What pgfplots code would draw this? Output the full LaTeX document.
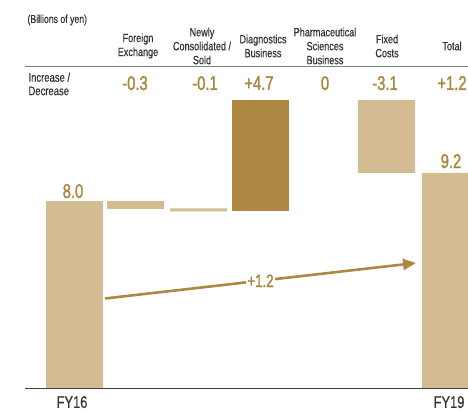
\documentclass[border=0pt]{standalone}
\usepackage{fontspec}
\setmainfont{Liberation Sans}[FakeStretch=0.76, FakeBold=0.4]
\newfontfamily\numfont{Liberation Sans}[FakeStretch=0.74, FakeBold=1.4]
\usepackage{pgfplots}
\pgfplotsset{compat=1.18}
\usetikzlibrary{arrows.meta}
\definecolor{barlight}{HTML}{D3BC91}
\definecolor{bardark}{HTML}{AE8843}
\definecolor{txtgold}{HTML}{A8863F}
\definecolor{hdr}{HTML}{333333}
\begin{document}
\begin{tikzpicture}
\begin{axis}[scale only axis, width=468bp, height=411bp,
  xmin=0, xmax=468, ymin=-0.9506, ymax=16.568,
  axis lines=none, ybar stacked, bar width=57, clip=true]
% invisible base
\addplot[fill=white, draw=none, fill opacity=0] coordinates {(74.5,0) (135.5,7.66) (198.5,7.56) (260.5,7.56) (386.5,9.2) (450.5,0)};
% light bars
\addplot[fill=barlight, draw=none] coordinates {(74.5,8.0) (135.5,0.34) (198.5,0.13) (260.5,0) (386.5,3.1) (450.5,9.2)};
% dark bar
\addplot[fill=bardark, draw=none] coordinates {(74.5,0) (135.5,0) (198.5,0) (260.5,4.74) (386.5,0) (450.5,0)};
\end{axis}
\begin{axis}[scale only axis, width=468bp, height=411bp,
  xmin=0, xmax=468, ymin=-0.9506, ymax=16.568,
  axis lines=none, clip=false]
\draw[color=black!75, line width=1.1bp] (axis cs:25,0) -- (axis cs:468,0);
\draw[color=black!50, line width=1.6bp] (axis cs:25,13.734) -- (axis cs:468,13.734);
\draw[color=bardark, line width=2.6bp, -{Triangle[length=13bp,width=11bp]}]
  (axis cs:105,3.845) -- node[pos=0.5, fill=white, inner sep=1.5bp, text=txtgold, font={\numfont\fontsize{18}{18}\selectfont}] {+1.2} (axis cs:416,5.358);
\node[anchor=west, text=hdr, font={\fontsize{11.5}{12}\selectfont}] at (axis cs:24,15.716) {(Billions of yen)};
\node[anchor=west, text=hdr, align=left, font={\fontsize{12.5}{13.5}\selectfont}] at (axis cs:25,12.988) {Increase /\\Decrease};
\node[text=hdr, align=center, font={\fontsize{12}{14}\selectfont}] at (axis cs:138,14.608) {Foreign\\Exchange};
\node[text=hdr, align=center, font={\fontsize{12}{14}\selectfont}] at (axis cs:202,14.608) {Newly\\Consolidated /\\Sold};
\node[text=hdr, align=center, font={\fontsize{12}{14}\selectfont}] at (axis cs:263,14.608) {Diagnostics\\Business};
\node[text=hdr, align=center, font={\fontsize{12}{14}\selectfont}] at (axis cs:325,14.608) {Pharmaceutical\\Sciences\\Business};
\node[text=hdr, align=center, font={\fontsize{12}{14}\selectfont}] at (axis cs:387,14.608) {Fixed\\Costs};
\node[text=hdr, align=center, font={\fontsize{12}{14}\selectfont}] at (axis cs:452,14.608) {Total};
\node[text=txtgold, anchor=base, font={\numfont\fontsize{20}{20}\selectfont}] at (axis cs:135,12.732) {-0.3};
\node[text=txtgold, anchor=base, font={\numfont\fontsize{20}{20}\selectfont}] at (axis cs:205,12.732) {-0.1};
\node[text=txtgold, anchor=base, font={\numfont\fontsize{20}{20}\selectfont}] at (axis cs:259,12.732) {+4.7};
\node[text=txtgold, anchor=base, font={\numfont\fontsize{20}{20}\selectfont}] at (axis cs:325,12.732) {0};
\node[text=txtgold, anchor=base, font={\numfont\fontsize{20}{20}\selectfont}] at (axis cs:385,12.732) {-3.1};
\node[text=txtgold, anchor=base, font={\numfont\fontsize{20}{20}\selectfont}] at (axis cs:452,12.732) {+1.2};
\node[text=txtgold, anchor=base, font={\numfont\fontsize{20}{20}\selectfont}] at (axis cs:73,8.129) {8.0};
\node[text=txtgold, anchor=base, font={\numfont\fontsize{20}{20}\selectfont}] at (axis cs:451,9.407) {9.2};
\node[anchor=base, text=hdr, font={\fontsize{17}{17}\selectfont}] at (axis cs:72,-0.82) {FY16};
\node[anchor=base, text=hdr, font={\fontsize{17}{17}\selectfont}] at (axis cs:449,-0.82) {FY19};
\end{axis}
\pgfresetboundingbox
\path (current axis.south west) rectangle (current axis.north east);
\end{tikzpicture}
\end{document}
